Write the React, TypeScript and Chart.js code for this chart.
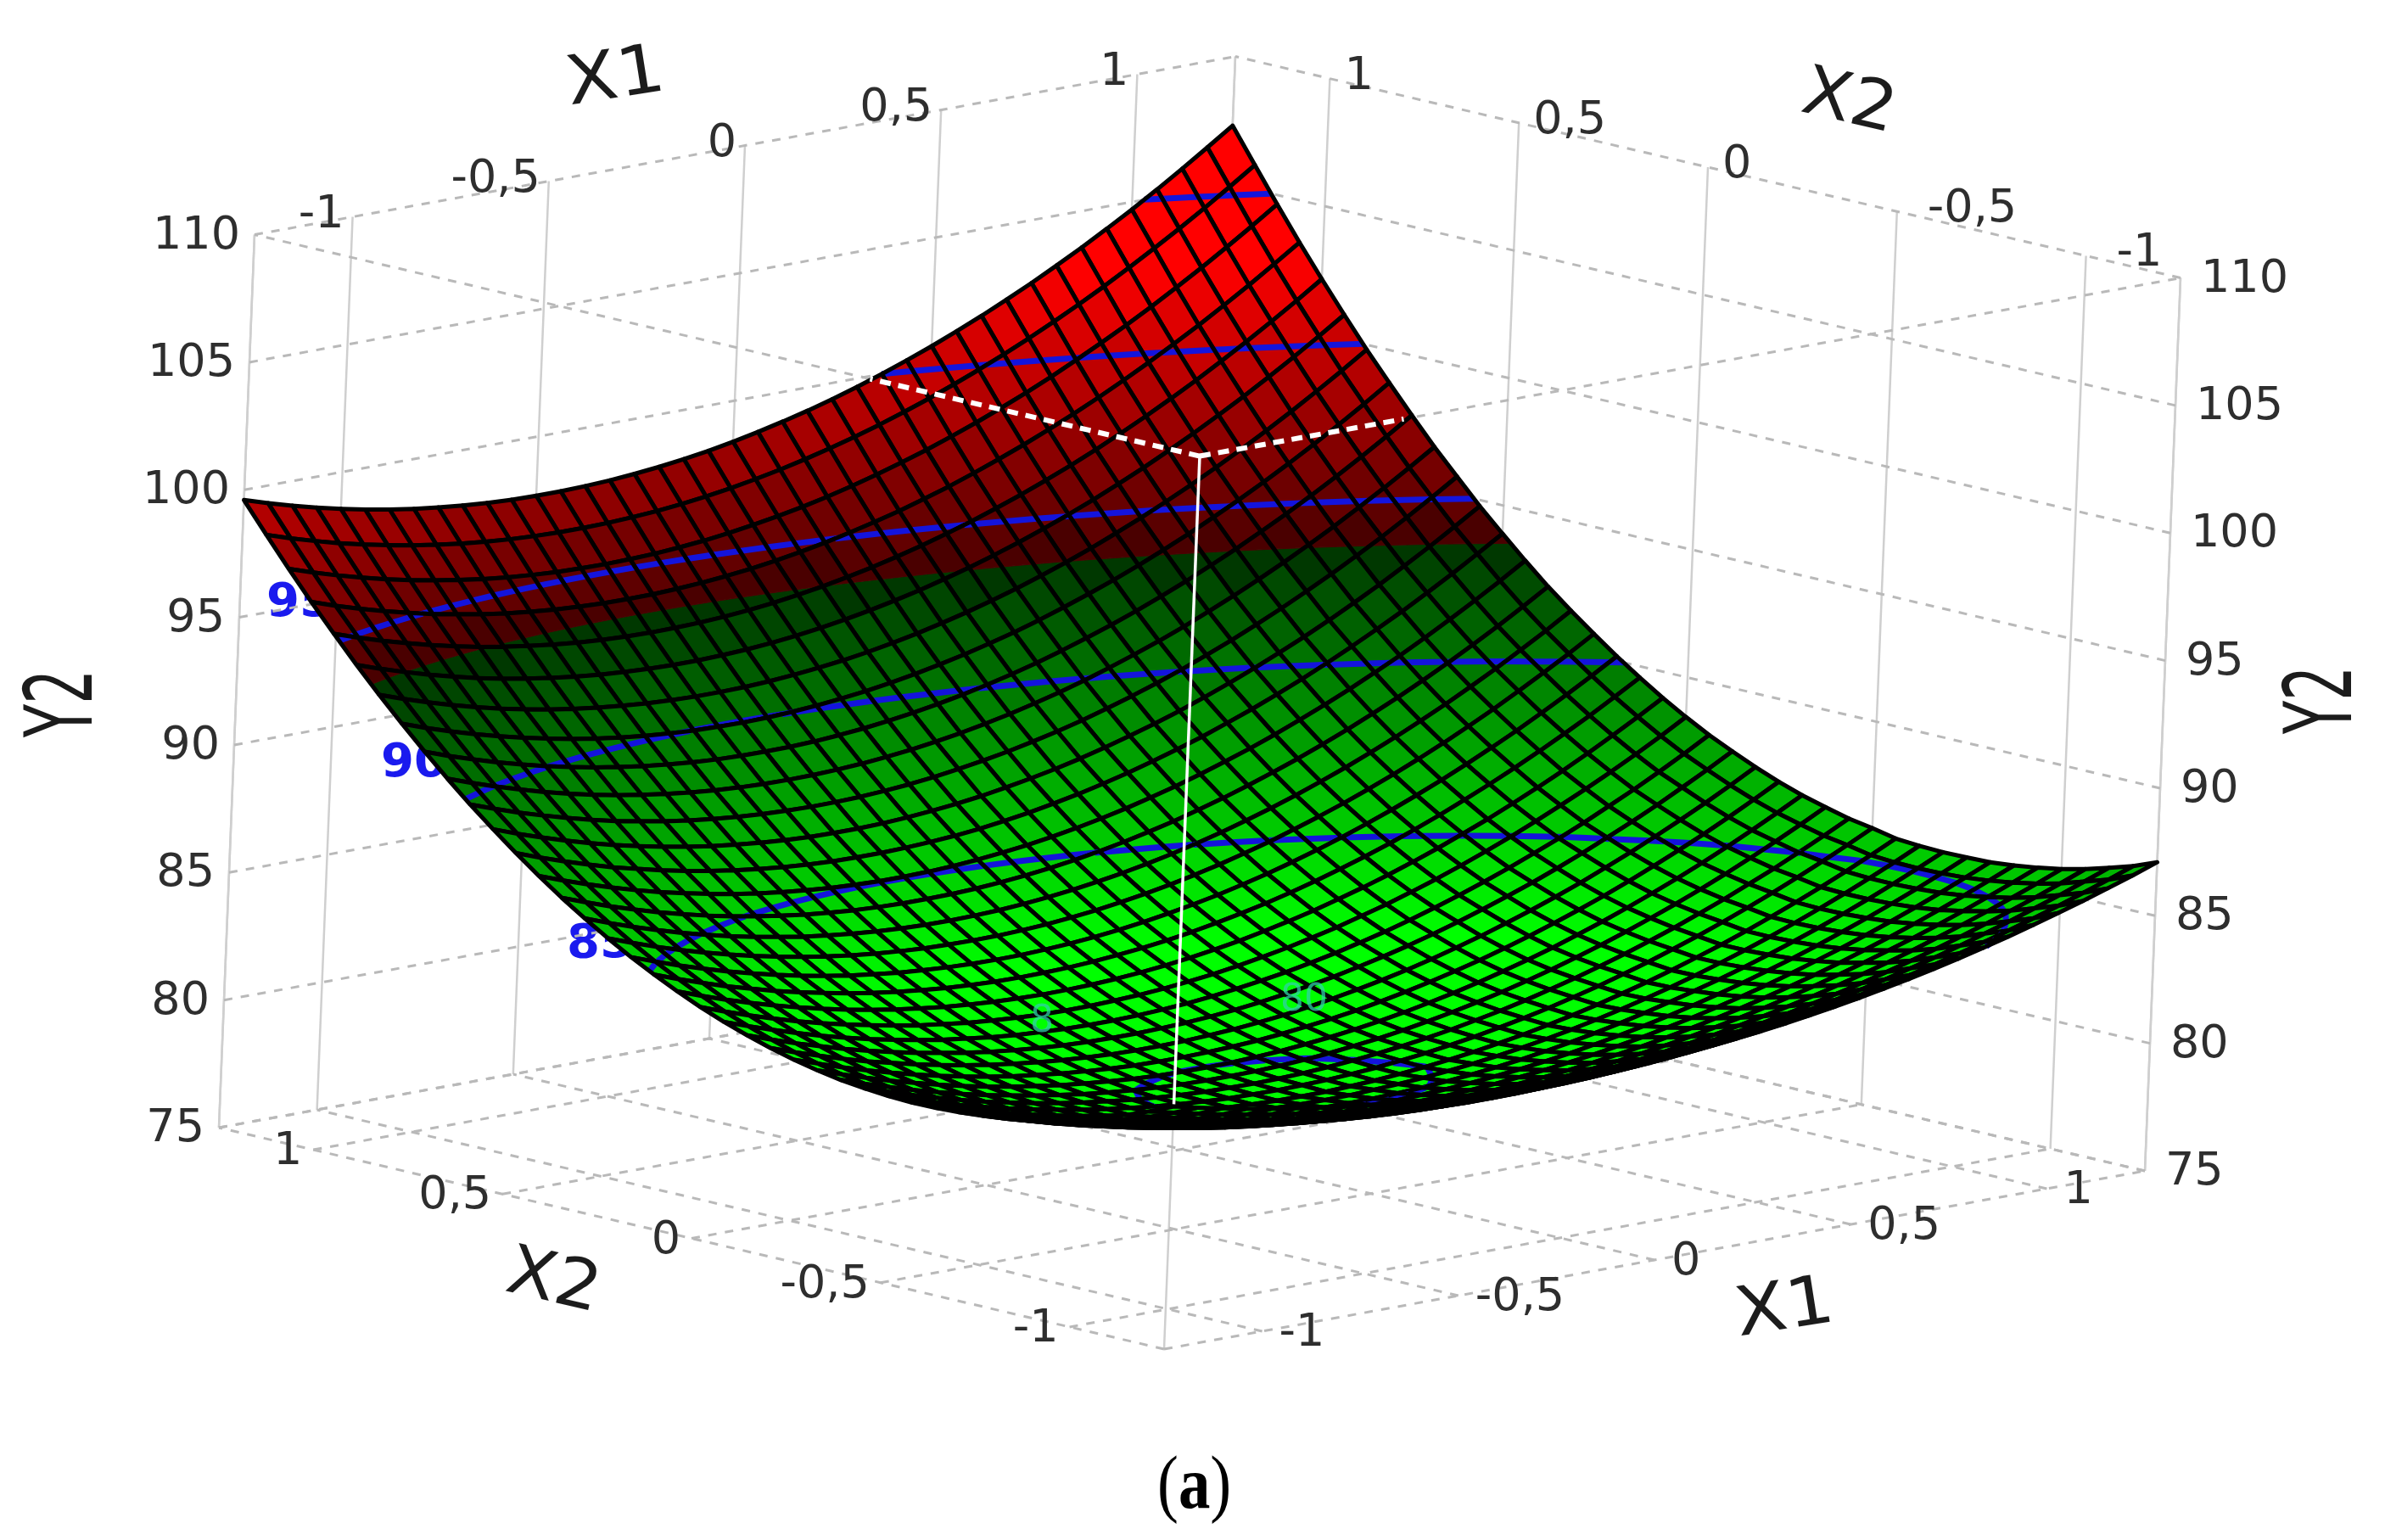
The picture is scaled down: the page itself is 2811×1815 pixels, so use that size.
import React, { useEffect, useRef } from "react";
import Chart from "chart.js/auto";

// Axis ticks and titles
const Y_TICKS = [75, 80, 85, 90, 95, 100, 105, 110];
const X_TICKS = [-1, -0.5, 0, 0.5, 1];
const X_TICK_TEXT = ["-1", "-0,5", "0", "0,5", "1"];
const CONTOUR_LEVELS = [80, 85, 90, 95, 100, 105];
const COLOUR_SPLIT = 93.6; // Y2 where the surface turns from green to red
const X_EXTENT = 1.25; // the surface and the box reach past the last tick

// Y2 on a 41 x 41 mesh: rows are X2 from -1.25 to 1.25,
// columns are X1 from -1.25 to 1.25. Edges and contours were read off the reference
// and the inner values were estimated by hand to follow them smoothly.
const Y2_GRID = [
[84.51,84.29,84.09,83.90,83.72,83.56,83.41,83.28,83.16,83.06,82.97,82.90,82.84,82.80,82.77,82.75,82.75,82.76,82.79,82.84,82.89,82.96,83.05,83.15,83.27,83.40,83.55,83.71,83.88,84.07,84.27,84.49,84.72,84.97,85.23,85.51,85.80,86.10,86.42,86.75,87.10],
[84.10,83.87,83.66,83.46,83.28,83.11,82.96,82.82,82.70,82.59,82.50,82.42,82.36,82.31,82.28,82.26,82.26,82.27,82.30,82.34,82.40,82.47,82.56,82.66,82.78,82.91,83.06,83.22,83.40,83.60,83.81,84.03,84.27,84.53,84.80,85.08,85.38,85.70,86.03,86.37,86.73],
[83.74,83.50,83.28,83.07,82.88,82.70,82.54,82.40,82.27,82.16,82.06,81.98,81.91,81.86,81.83,81.81,81.81,81.82,81.85,81.89,81.95,82.03,82.12,82.23,82.35,82.49,82.64,82.81,83.00,83.20,83.42,83.65,83.90,84.16,84.44,84.74,85.05,85.38,85.72,86.08,86.45],
[83.42,83.17,82.94,82.72,82.52,82.34,82.17,82.02,81.89,81.77,81.67,81.58,81.51,81.46,81.42,81.40,81.40,81.41,81.44,81.48,81.54,81.62,81.71,81.82,81.95,82.09,82.25,82.42,82.61,82.82,83.04,83.28,83.54,83.81,84.10,84.41,84.73,85.07,85.42,85.79,86.18],
[83.14,82.88,82.64,82.42,82.21,82.02,81.85,81.69,81.55,81.43,81.32,81.23,81.16,81.10,81.06,81.04,81.04,81.05,81.08,81.12,81.18,81.26,81.36,81.47,81.60,81.75,81.91,82.09,82.29,82.50,82.73,82.98,83.24,83.52,83.82,84.14,84.47,84.82,85.18,85.56,85.96],
[82.90,82.63,82.38,82.15,81.94,81.74,81.56,81.40,81.26,81.13,81.02,80.93,80.85,80.79,80.75,80.73,80.72,80.73,80.76,80.81,80.87,80.95,81.05,81.17,81.30,81.45,81.62,81.81,82.01,82.23,82.47,82.73,83.00,83.29,83.60,83.92,84.26,84.62,85.00,85.39,85.80],
[82.69,82.42,82.16,81.92,81.70,81.50,81.31,81.14,80.99,80.86,80.75,80.65,80.57,80.51,80.47,80.45,80.44,80.45,80.48,80.53,80.60,80.68,80.78,80.90,81.04,81.19,81.37,81.56,81.77,81.99,82.24,82.50,82.78,83.08,83.40,83.73,84.08,84.45,84.84,85.25,85.67],
[82.53,82.25,81.98,81.74,81.51,81.30,81.11,80.94,80.78,80.65,80.53,80.43,80.35,80.29,80.25,80.22,80.22,80.23,80.26,80.31,80.38,80.47,80.57,80.69,80.83,80.99,81.17,81.37,81.58,81.81,82.06,82.33,82.62,82.93,83.25,83.59,83.95,84.33,84.73,85.15,85.58],
[82.41,82.12,81.85,81.60,81.36,81.15,80.95,80.77,80.62,80.48,80.36,80.26,80.18,80.11,80.07,80.04,80.04,80.05,80.08,80.13,80.20,80.29,80.39,80.52,80.66,80.83,81.01,81.21,81.43,81.67,81.93,82.20,82.50,82.81,83.14,83.50,83.87,84.26,84.67,85.10,85.55],
[82.33,82.03,81.75,81.49,81.25,81.03,80.83,80.65,80.49,80.35,80.23,80.13,80.05,79.98,79.93,79.90,79.89,79.90,79.93,79.98,80.05,80.14,80.25,80.38,80.53,80.70,80.89,81.10,81.33,81.58,81.84,82.12,82.42,82.74,83.08,83.44,83.82,84.22,84.64,85.08,85.54],
[82.29,81.99,81.70,81.44,81.19,80.97,80.76,80.58,80.41,80.27,80.14,80.04,79.95,79.89,79.84,79.81,79.80,79.81,79.85,79.90,79.97,80.06,80.17,80.30,80.45,80.62,80.81,81.02,81.25,81.50,81.77,82.06,82.37,82.70,83.05,83.42,83.81,84.22,84.65,85.10,85.57],
[82.28,81.97,81.68,81.41,81.16,80.93,80.72,80.53,80.36,80.21,80.08,79.97,79.88,79.81,79.76,79.73,79.72,79.73,79.77,79.82,79.90,79.99,80.11,80.24,80.40,80.57,80.77,80.98,81.22,81.48,81.75,82.05,82.37,82.70,83.06,83.44,83.84,84.26,84.70,85.16,85.64],
[82.32,82.00,81.71,81.43,81.18,80.95,80.74,80.55,80.38,80.23,80.10,79.99,79.90,79.83,79.78,79.76,79.75,79.77,79.80,79.86,79.93,80.03,80.15,80.29,80.45,80.63,80.83,81.05,81.30,81.56,81.85,82.15,82.48,82.82,83.19,83.58,83.99,84.42,84.87,85.34,85.83],
[82.40,82.08,81.78,81.50,81.24,81.00,80.79,80.59,80.42,80.27,80.14,80.03,79.94,79.87,79.82,79.80,79.79,79.81,79.85,79.91,79.99,80.09,80.21,80.35,80.51,80.70,80.90,81.13,81.38,81.65,81.94,82.25,82.58,82.93,83.31,83.70,84.12,84.55,85.01,85.49,85.99],
[82.51,82.18,81.88,81.59,81.33,81.09,80.87,80.68,80.50,80.35,80.21,80.10,80.01,79.94,79.89,79.87,79.87,79.88,79.92,79.98,80.06,80.17,80.29,80.44,80.61,80.80,81.01,81.24,81.50,81.77,82.07,82.39,82.73,83.09,83.47,83.87,84.30,84.75,85.22,85.71,86.22],
[82.67,82.34,82.03,81.74,81.48,81.23,81.01,80.81,80.63,80.48,80.34,80.23,80.14,80.07,80.02,79.99,79.99,80.01,80.05,80.11,80.20,80.30,80.43,80.58,80.75,80.95,81.16,81.40,81.66,81.94,82.24,82.57,82.91,83.28,83.67,84.08,84.51,84.97,85.45,85.95,86.47],
[82.87,82.54,82.22,81.93,81.66,81.41,81.19,80.99,80.81,80.65,80.52,80.41,80.32,80.25,80.20,80.18,80.18,80.20,80.24,80.30,80.39,80.50,80.63,80.78,80.96,81.16,81.38,81.62,81.88,82.17,82.48,82.81,83.16,83.53,83.93,84.35,84.79,85.25,85.74,86.25,86.78],
[83.11,82.77,82.46,82.16,81.89,81.65,81.42,81.22,81.04,80.88,80.75,80.63,80.54,80.47,80.42,80.40,80.40,80.42,80.47,80.53,80.62,80.73,80.87,81.03,81.21,81.41,81.63,81.88,82.15,82.44,82.76,83.09,83.45,83.83,84.24,84.67,85.12,85.59,86.08,86.60,87.14],
[83.39,83.05,82.73,82.44,82.16,81.91,81.69,81.48,81.30,81.14,81.00,80.89,80.80,80.73,80.69,80.67,80.67,80.70,80.74,80.81,80.90,81.02,81.16,81.32,81.50,81.71,81.94,82.19,82.47,82.77,83.09,83.43,83.79,84.18,84.59,85.03,85.48,85.96,86.47,86.99,87.54],
[83.70,83.36,83.04,82.74,82.46,82.21,81.98,81.78,81.59,81.43,81.30,81.18,81.09,81.03,80.98,80.96,80.96,80.99,81.04,81.11,81.21,81.33,81.47,81.63,81.82,82.03,82.27,82.52,82.80,83.11,83.43,83.78,84.15,84.55,84.96,85.40,85.87,86.35,86.86,87.40,87.96],
[84.06,83.71,83.39,83.09,82.81,82.56,82.33,82.13,81.94,81.78,81.65,81.53,81.44,81.38,81.33,81.31,81.32,81.35,81.40,81.47,81.57,81.69,81.84,82.01,82.20,82.42,82.65,82.92,83.20,83.51,83.84,84.20,84.58,84.98,85.41,85.86,86.33,86.82,87.34,87.88,88.45],
[84.46,84.11,83.79,83.49,83.21,82.96,82.73,82.52,82.34,82.18,82.05,81.93,81.85,81.78,81.74,81.72,81.73,81.76,81.81,81.89,81.99,82.11,82.26,82.43,82.63,82.85,83.09,83.36,83.65,83.96,84.30,84.66,85.05,85.45,85.89,86.34,86.82,87.33,87.86,88.41,88.98],
[84.90,84.55,84.23,83.92,83.65,83.39,83.16,82.96,82.77,82.61,82.48,82.37,82.28,82.22,82.18,82.17,82.18,82.21,82.27,82.35,82.45,82.58,82.73,82.91,83.11,83.33,83.58,83.85,84.15,84.47,84.81,85.18,85.57,85.99,86.43,86.89,87.38,87.89,88.42,88.98,89.56],
[85.37,85.02,84.69,84.39,84.11,83.86,83.63,83.42,83.24,83.08,82.95,82.84,82.76,82.70,82.66,82.65,82.66,82.70,82.76,82.84,82.95,83.08,83.24,83.42,83.62,83.85,84.10,84.38,84.68,85.01,85.36,85.73,86.13,86.55,87.00,87.47,87.96,88.48,89.02,89.59,90.18],
[85.89,85.54,85.21,84.91,84.63,84.38,84.15,83.95,83.77,83.61,83.48,83.37,83.29,83.23,83.20,83.19,83.20,83.24,83.30,83.39,83.50,83.64,83.80,83.98,84.19,84.42,84.68,84.96,85.27,85.60,85.95,86.33,86.73,87.16,87.61,88.09,88.59,89.12,89.67,90.24,90.84],
[86.45,86.10,85.77,85.47,85.19,84.94,84.71,84.51,84.33,84.17,84.04,83.93,83.85,83.79,83.76,83.75,83.77,83.81,83.88,83.97,84.09,84.23,84.39,84.58,84.79,85.03,85.29,85.58,85.89,86.22,86.58,86.96,87.37,87.80,88.26,88.74,89.25,89.78,90.34,90.92,91.53],
[87.04,86.69,86.36,86.06,85.78,85.53,85.30,85.10,84.92,84.77,84.64,84.54,84.46,84.41,84.38,84.38,84.40,84.44,84.51,84.60,84.72,84.86,85.03,85.22,85.44,85.68,85.95,86.24,86.56,86.90,87.26,87.65,88.06,88.50,88.96,89.45,89.96,90.50,91.06,91.65,92.26],
[87.68,87.33,87.01,86.71,86.43,86.18,85.96,85.76,85.58,85.43,85.30,85.20,85.12,85.07,85.04,85.04,85.06,85.11,85.18,85.28,85.40,85.55,85.72,85.92,86.14,86.39,86.66,86.96,87.28,87.62,87.99,88.39,88.81,89.25,89.72,90.21,90.73,91.28,91.85,92.44,93.06],
[88.36,88.01,87.69,87.39,87.11,86.87,86.64,86.44,86.27,86.12,85.99,85.89,85.82,85.77,85.75,85.75,85.78,85.83,85.90,86.00,86.13,86.28,86.46,86.66,86.89,87.14,87.42,87.72,88.04,88.40,88.77,89.17,89.60,90.05,90.53,91.03,91.55,92.10,92.68,93.28,93.90],
[89.08,88.73,88.41,88.11,87.84,87.59,87.37,87.17,87.00,86.85,86.73,86.63,86.56,86.51,86.49,86.49,86.52,86.58,86.66,86.76,86.89,87.05,87.23,87.43,87.66,87.92,88.20,88.50,88.83,89.19,89.57,89.98,90.41,90.86,91.34,91.85,92.38,92.94,93.52,94.13,94.76],
[89.83,89.49,89.17,88.88,88.61,88.36,88.14,87.95,87.78,87.64,87.52,87.43,87.36,87.32,87.30,87.31,87.34,87.40,87.48,87.59,87.73,87.89,88.07,88.28,88.51,88.77,89.06,89.37,89.70,90.06,90.45,90.86,91.30,91.76,92.25,92.76,93.30,93.86,94.45,95.06,95.70],
[90.63,90.29,89.97,89.68,89.41,89.17,88.95,88.76,88.60,88.46,88.34,88.25,88.19,88.15,88.14,88.15,88.19,88.25,88.34,88.45,88.59,88.75,88.94,89.15,89.39,89.65,89.94,90.26,90.60,90.96,91.35,91.77,92.21,92.68,93.17,93.69,94.23,94.80,95.39,96.01,96.65],
[91.47,91.13,90.82,90.53,90.27,90.03,89.82,89.63,89.47,89.33,89.22,89.13,89.07,89.04,89.03,89.04,89.08,89.15,89.24,89.36,89.50,89.67,89.86,90.08,90.32,90.59,90.89,91.21,91.55,91.92,92.32,92.74,93.19,93.66,94.16,94.68,95.23,95.80,96.40,97.02,97.67],
[92.35,92.01,91.70,91.42,91.16,90.93,90.72,90.53,90.37,90.24,90.13,90.05,89.99,89.96,89.95,89.97,90.02,90.09,90.19,90.31,90.46,90.63,90.83,91.05,91.30,91.57,91.87,92.20,92.55,92.92,93.32,93.75,94.20,94.68,95.18,95.71,96.26,96.84,97.44,98.07,98.73],
[93.26,92.93,92.62,92.34,92.08,91.85,91.65,91.47,91.32,91.19,91.09,91.01,90.96,90.93,90.93,90.95,91.00,91.08,91.18,91.30,91.45,91.63,91.83,92.06,92.31,92.59,92.89,93.22,93.57,93.95,94.36,94.79,95.25,95.73,96.24,96.77,97.33,97.91,98.52,99.15,99.81],
[94.22,93.89,93.59,93.31,93.06,92.83,92.63,92.46,92.31,92.19,92.09,92.02,91.97,91.95,91.95,91.98,92.03,92.11,92.22,92.35,92.51,92.69,92.90,93.13,93.39,93.67,93.98,94.31,94.67,95.05,95.46,95.90,96.36,96.85,97.36,97.90,98.46,99.05,99.66,100.30,100.96],
[95.22,94.90,94.60,94.33,94.08,93.86,93.66,93.49,93.35,93.23,93.13,93.06,93.02,93.00,93.01,93.04,93.10,93.18,93.29,93.43,93.59,93.78,93.99,94.23,94.49,94.78,95.09,95.43,95.79,96.18,96.59,97.03,97.50,97.99,98.51,99.05,99.62,100.21,100.83,101.47,102.14],
[96.25,95.93,95.64,95.37,95.13,94.91,94.72,94.55,94.41,94.30,94.21,94.15,94.11,94.10,94.11,94.15,94.21,94.30,94.41,94.55,94.72,94.91,95.13,95.37,95.63,95.93,96.24,96.59,96.96,97.35,97.77,98.21,98.68,99.18,99.70,100.25,100.82,101.42,102.04,102.69,103.36],
[97.33,97.02,96.73,96.47,96.23,96.02,95.84,95.68,95.54,95.43,95.35,95.29,95.26,95.25,95.27,95.31,95.38,95.47,95.59,95.74,95.91,96.10,96.32,96.57,96.84,97.14,97.46,97.81,98.18,98.58,99.00,99.45,99.93,100.43,100.95,101.50,102.08,102.68,103.31,103.96,104.64],
[98.45,98.14,97.86,97.60,97.37,97.17,96.99,96.84,96.71,96.61,96.53,96.48,96.45,96.45,96.47,96.52,96.59,96.69,96.81,96.96,97.14,97.34,97.57,97.82,98.10,98.40,98.73,99.08,99.46,99.86,100.29,100.74,101.22,101.72,102.25,102.81,103.39,103.99,104.62,105.28,105.96],
[99.60,99.30,99.03,98.78,98.55,98.35,98.18,98.03,97.91,97.81,97.74,97.69,97.67,97.67,97.70,97.75,97.83,97.93,98.06,98.21,98.39,98.60,98.83,99.08,99.36,99.67,100.00,100.36,100.74,101.15,101.58,102.04,102.52,103.03,103.56,104.12,104.70,105.31,105.95,106.61,107.29],
];

// Oblique projection of the box onto the page
const W = 2811;
const H = 1815;
function project(x1: number, x2: number, y: number) {
  return {
    x: 1393 + 462.4 * x1 - 445.6 * x2 + 1.2 * (y - 75),
    y: 1354.5 - 84 * x1 - 104.4 * x2 - 30.07 * (y - 75),
  };
}
const gridX = (k: number) => -X_EXTENT + (k * 2 * X_EXTENT) / (Y2_GRID.length - 1);

function cellColor(y: number) {
  if (y >= COLOUR_SPLIT) {
    const r = Math.min(255, 72 + (y - COLOUR_SPLIT) * 20);
    return `rgb(${Math.round(r)},0,0)`;
  }
  const g = Math.min(255, 54 + (COLOUR_SPLIT - y) * 18);
  return `rgb(0,${Math.round(g)},0)`;
}

function seg(a: number[], b: number[], opts: any) {
  return {
    type: "scatter",
    showLine: true,
    fill: false,
    pointRadius: 0,
    clip: false,
    data: [project(a[0], a[1], a[2]), project(b[0], b[1], b[2])],
    ...opts,
  };
}

function crossing(a: number[], b: number[], level: number) {
  const t = (level - a[2]) / (b[2] - a[2]);
  return [a[0] + (b[0] - a[0]) * t, a[1] + (b[1] - a[1]) * t, level];
}

function polygonSet(points: number[][], color: string, order: number) {
  const path = points.map((q) => project(q[0], q[1], q[2]));
  return {
    type: "scatter",
    showLine: true,
    pointRadius: 0,
    clip: false,
    fill: "shape",
    backgroundColor: color,
    borderColor: color,
    borderWidth: 1,
    data: [...path, path[0]],
    order,
  };
}

function buildDatasets() {
  const sets: any[] = [];
  const E = X_EXTENT;
  const dash = { borderColor: "#b9b9b9", borderWidth: 3, borderDash: [10, 10], order: 8000000 };
  const solid = { borderColor: "#cfcfcf", borderWidth: 2.5, order: 8000001 };
  const yMin = Y_TICKS[0];
  const yMax = Y_TICKS[Y_TICKS.length - 1];
  for (const y of Y_TICKS) {
    sets.push(seg([-E, E, y], [E, E, y], dash));
    sets.push(seg([E, -E, y], [E, E, y], dash));
  }
  for (const t of [-E, ...X_TICKS, E]) {
    sets.push(seg([t, -E, yMin], [t, E, yMin], dash));
    sets.push(seg([-E, t, yMin], [E, t, yMin], dash));
    sets.push(seg([t, E, yMin], [t, E, yMax], solid));
    sets.push(seg([E, t, yMin], [E, t, yMax], solid));
  }
  sets.push(seg([-E, -E, yMax], [-E, E, yMax], dash));
  sets.push(seg([-E, -E, yMax], [E, -E, yMax], dash));
  sets.push(seg([-E, -E, yMin], [-E, -E, yMax], solid));
  sets.push(seg([-E, E, yMin], [-E, E, yMax], solid));
  sets.push(seg([E, -E, yMin], [E, -E, yMax], solid));

  const n = Y2_GRID.length - 1;
  const cells: { i: number; j: number }[] = [];
  for (let j = 0; j < n; j++) for (let i = 0; i < n; i++) cells.push({ i, j });
  cells.sort((a, b) => b.i + b.j - (a.i + a.j));
  cells.forEach(({ i, j }, k) => {
    const x0 = gridX(i);
    const x1 = gridX(i + 1);
    const z0 = gridX(j);
    const z1 = gridX(j + 1);
    const corners = [
      [x0, z0, Y2_GRID[j][i]],
      [x1, z0, Y2_GRID[j][i + 1]],
      [x1, z1, Y2_GRID[j + 1][i + 1]],
      [x0, z1, Y2_GRID[j + 1][i]],
    ];
    const order = 7000000 - k * 4;
    const mean = corners.reduce((s, c) => s + c[2], 0) / 4;
    const high: number[][] = [];
    const low: number[][] = [];
    corners.forEach((a, e) => {
      const b = corners[(e + 1) % 4];
      (a[2] >= COLOUR_SPLIT ? high : low).push(a);
      if (a[2] >= COLOUR_SPLIT !== b[2] >= COLOUR_SPLIT) {
        const c = crossing(a, b, COLOUR_SPLIT);
        high.push(c);
        low.push(c);
      }
    });
    if (high.length && low.length) {
      sets.push(polygonSet(low, cellColor(COLOUR_SPLIT - 0.1), order));
      sets.push(polygonSet(high, cellColor(COLOUR_SPLIT + 0.1), order - 1));
    } else {
      sets.push(polygonSet(corners, cellColor(mean), order));
    }
    for (const level of CONTOUR_LEVELS) {
      const hits: number[][] = [];
      corners.forEach((a, e) => {
        const b = corners[(e + 1) % 4];
        if (a[2] < level !== b[2] < level) hits.push(crossing(a, b, level));
      });
      if (hits.length >= 2) {
        sets.push(seg(hits[0], hits[1], { borderColor: "#1414dc", borderWidth: 7, order: order - 2 }));
      }
    }
    const outline = corners.map((q) => project(q[0], q[1], q[2]));
    sets.push({
      type: "scatter",
      showLine: true,
      pointRadius: 0,
      clip: false,
      fill: false,
      borderColor: "#000000",
      borderWidth: 5,
      borderJoinStyle: "round",
      data: [...outline, outline[0]],
      order: order - 3,
    });
  });

  // Front box edges showing over the surface
  const white = { borderColor: "#ffffff", borderWidth: 4, order: -2 };
  const whiteDash = { ...white, borderWidth: 6, borderDash: [13, 9] };
  sets.push(seg([-E, -E, yMax], [-E, -0.378, yMax], whiteDash));
  sets.push(seg([-E, -E, yMax], [-0.73, -E, yMax], whiteDash));
  sets.push(seg([-E, -E, yMax], [-E, -E, 84.6], { ...white, borderWidth: 3.5 }));
  return sets;
}

const TICK_FONT = '54px "DejaVu Sans"';
const tickInk = "#2e2e2e";

const textPlugin = {
  id: "boxText",
  beforeDatasetsDraw(chart: any) {
    const { ctx, scales } = chart;
    const px = (v: number) => scales.x.getPixelForValue(v);
    const py = (v: number) => scales.y.getPixelForValue(v);
    ctx.save();
    ctx.fillStyle = "#1a1aee";
    ctx.font = 'bold 56px "DejaVu Sans"';
    ctx.textBaseline = "middle";
    ctx.textAlign = "left";
    ctx.fillText("95", px(314), py(711));
    ctx.fillText("90", px(449), py(900));
    ctx.fillText("85", px(668), py(1113));
    ctx.restore();
  },
  afterDraw(chart: any) {
    const { ctx, scales } = chart;
    const E = X_EXTENT;
    const yMin = Y_TICKS[0];
    const yMax = Y_TICKS[Y_TICKS.length - 1];
    const at = (p: { x: number; y: number }) => ({
      x: scales.x.getPixelForValue(p.x),
      y: scales.y.getPixelForValue(p.y),
    });
    const label = (text: string, p: { x: number; y: number }, dx: number, dy: number, align: CanvasTextAlign) => {
      const q = at(p);
      ctx.textAlign = align;
      ctx.fillText(text, q.x + dx, q.y + dy);
    };
    ctx.save();
    ctx.fillStyle = tickInk;
    ctx.font = TICK_FONT;
    ctx.textBaseline = "middle";
    for (const y of Y_TICKS) {
      label(String(y), project(-E, E, y), -17, 2, "right");
      label(String(y), project(E, -E, y), 24, 2, "left");
    }
    X_TICKS.forEach((t, k) => {
      const text = X_TICK_TEXT[k];
      label(text, project(t, E, yMax), -10, -2, "right");
      label(text, project(E, t, yMax), t < 0 ? 36 : 17, -2, "left");
      label(text, project(-E, t, yMin), -13, 3, "right");
      label(text, project(t, -E, yMin), 20, 3, "left");
    });
    const title = (text: string, x: number, y: number, deg: number, sx: number, sy: number) => {
      const q = at({ x, y });
      ctx.save();
      ctx.translate(q.x, q.y);
      ctx.rotate((deg * Math.PI) / 180);
      ctx.scale(sx, sy);
      ctx.font = '80px "DejaVu Sans"';
      ctx.fillStyle = "#1c1c1c";
      ctx.textAlign = "center";
      ctx.fillText(text, 0, 0);
      ctx.restore();
    };
    title("X1", 726, 94, -9, 1.1, 1);
    title("X2", 2179, 123, 13, 1.05, 1);
    title("X2", 652, 1513, 13, 1.05, 1);
    title("X1", 2104, 1545, -9, 1.1, 1);
    title("Y2", 79, 829, -90, 0.8, 1.38);
    title("Y2", 2742, 825, -90, 0.8, 1.38);

    ctx.globalAlpha = 0.75;
    ctx.fillStyle = "#30d0a8";
    ctx.font = '44px "DejaVu Sans"';
    ctx.textAlign = "center";
    const c1 = at({ x: 1228, y: 1205 });
    ctx.fillText("8", c1.x, c1.y);
    const c2 = at({ x: 1537, y: 1180 });
    ctx.fillText("80", c2.x, c2.y);
    ctx.globalAlpha = 1;

    const caption = at({ x: 1364, y: 1777 });
    ctx.translate(caption.x, caption.y);
    ctx.scale(0.85, 1);
    ctx.fillStyle = "#000000";
    ctx.textBaseline = "alphabetic";
    ctx.textAlign = "left";
    ctx.font = '88px "Liberation Serif"';
    ctx.fillText("(", 0, 0);
    const w1 = ctx.measureText("(").width;
    ctx.font = 'bold 88px "Liberation Serif"';
    ctx.fillText("a", w1, 0);
    const w2 = ctx.measureText("a").width;
    ctx.font = '88px "Liberation Serif"';
    ctx.fillText(")", w1 + w2, 0);
    ctx.restore();
  },
};

export default function App() {
  const ref = useRef<HTMLCanvasElement | null>(null);
  useEffect(() => {
    document.body.style.margin = "0";
    document.body.style.background = "#ffffff";
    const chart = new Chart(ref.current as HTMLCanvasElement, {
      type: "scatter",
      data: { datasets: buildDatasets() as any },
      options: {
        animation: false,
        responsive: false,
        events: [],
        parsing: false,
        normalized: true,
        layout: { padding: 0 },
        plugins: { legend: { display: false }, tooltip: { enabled: false }, title: { display: false } },
        scales: {
          x: { type: "linear", display: false, min: 0, max: W },
          y: { type: "linear", display: false, min: 0, max: H, reverse: true },
        },
      } as any,
      plugins: [textPlugin as any],
    });
    return () => chart.destroy();
  }, []);
  return <canvas ref={ref} width={W} height={H} style={{ display: "block", width: W, height: H }} />;
}
